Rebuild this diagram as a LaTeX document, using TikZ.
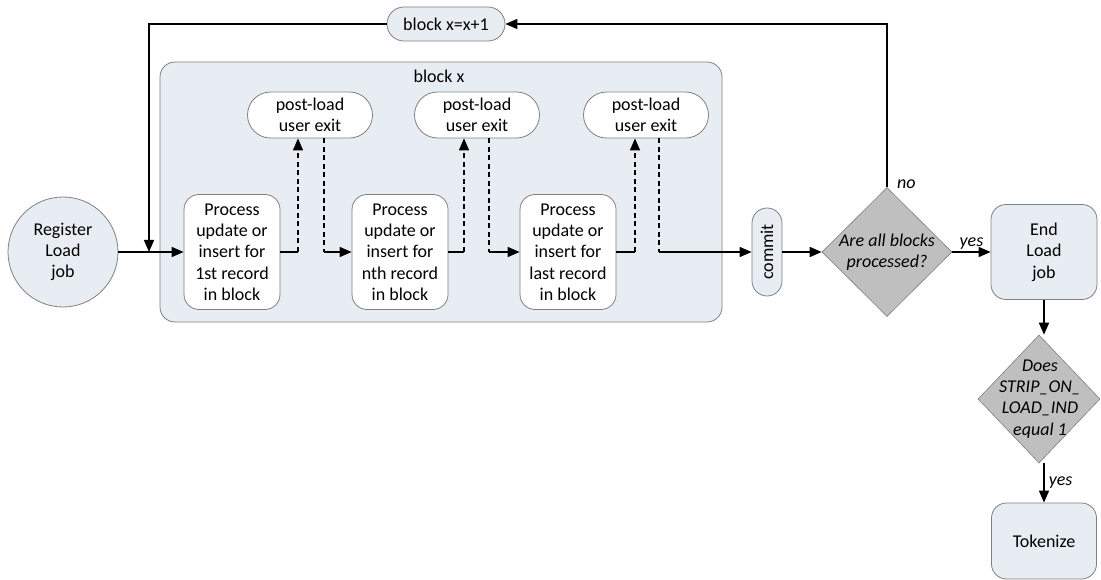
\documentclass[tikz,border=0pt]{standalone}
\usepackage{fontspec}
\setmainfont{Carlito}
\usetikzlibrary{shapes.geometric,arrows.meta}
\definecolor{lightfill}{RGB}{232,237,244}
\definecolor{bordergray}{RGB}{128,128,128}
\definecolor{diafill}{RGB}{191,191,191}
\begin{document}
\begin{tikzpicture}[x=1pt,y=-1pt,
  every node/.style={font=\fontsize{18}{21.3}\selectfont, align=center, inner sep=0pt},
  procbox/.style={draw=bordergray, line width=0.8pt, fill=white, rounded corners=15pt, minimum width=96pt, minimum height=115pt},
  exitbox/.style={draw=bordergray, line width=0.8pt, fill=white, rounded corners=23pt, minimum width=125pt, minimum height=46pt},
  dia/.style={draw=bordergray, line width=0.6pt, fill=diafill, shape=diamond, aspect=1},
  conn/.style={line width=1.6pt, -{Triangle[length=12pt,width=10pt]}},
  plain/.style={line width=1.6pt},
  dashconn/.style={line width=1.4pt, dash pattern=on 5pt off 3.5pt},
  lab/.style={font=\fontsize{18}{21.3}\selectfont\itshape}
]
\useasboundingbox (0,0) rectangle (1101,580);

% container
\node[draw=bordergray, line width=0.8pt, fill=lightfill, rounded corners=15pt, minimum width=562pt, minimum height=260pt] (cont) at (441,192) {};
\node (blk) at (439,76) {block x};

\node[draw=bordergray, line width=0.8pt, fill=lightfill, circle, minimum size=110pt] (reg) at (63,252) {Register\\Load\\job};
\node[draw=bordergray, line width=0.8pt, fill=lightfill, rounded corners=17pt, minimum width=118pt, minimum height=34pt] (inc) at (446,24) {block x=x+1};

\node[procbox] (p1) at (232,252) {Process\\update or\\insert for\\1st record\\in block};
\node[procbox] (p2) at (400,252) {Process\\update or\\insert for\\nth record\\in block};
\node[procbox] (p3) at (568,252) {Process\\update or\\insert for\\last record\\in block};

\node[exitbox] (u1) at (310,115) {post-load\\user exit};
\node[exitbox] (u2) at (477,115) {post-load\\user exit};
\node[exitbox] (u3) at (646,115) {post-load\\user exit};

\node[draw=bordergray, line width=0.8pt, fill=lightfill, rounded corners=15pt, rotate=90, minimum width=88pt, minimum height=30pt] (com) at (767,252) {commit};

\node[dia, minimum width=130pt, minimum height=129pt] (d1) at (887,252) {};
\node[lab] (d1t) at (887,252) {Are all blocks\\processed?};

\node[draw=bordergray, line width=0.8pt, fill=lightfill, rounded corners=15pt, minimum width=106pt, minimum height=95pt] (endj) at (1044,252) {End\\Load\\job};

\node[dia, minimum width=122pt, minimum height=128pt] (d2) at (1039,399) {};
\node[lab] (d2t) at (1040,399) {Does\\STRIP\_ON\_\\LOAD\_IND\\equal 1};

\node[draw=bordergray, line width=0.8pt, fill=lightfill, rounded corners=15pt, minimum width=105pt, minimum height=76pt] (tok) at (1044,541) {Tokenize};

% connectors
\draw[conn] (reg.east) -- (p1.west);
\coordinate (jn) at (149,252);
\draw[conn] (inc.west) -| (jn);
\draw[conn] (d1.north) |- (inc.east);
\node[lab, anchor=west] (no) at (897,184) {no};

% p1 -> u1 -> p2
\draw[plain] (p1.east) -- ([xshift=-12pt]u1.south |- p1.east);
\draw[dashconn, -{Triangle[length=12pt,width=10pt]}] ([xshift=-12pt]u1.south |- p1.east) -- ([xshift=-12pt]u1.south);
\draw[dashconn] ([xshift=14pt]u1.south) -- ([xshift=14pt]u1.south |- p2.west);
\draw[conn] ([xshift=14pt]u1.south |- p2.west) -- (p2.west);

% p2 -> u2 -> p3
\draw[plain] (p2.east) -- ([xshift=-13pt]u2.south |- p2.east);
\draw[dashconn, -{Triangle[length=12pt,width=10pt]}] ([xshift=-13pt]u2.south |- p2.east) -- ([xshift=-13pt]u2.south);
\draw[dashconn] ([xshift=12pt]u2.south) -- ([xshift=12pt]u2.south |- p3.west);
\draw[conn] ([xshift=12pt]u2.south |- p3.west) -- (p3.west);

% p3 -> u3 -> commit
\draw[plain] (p3.east) -- ([xshift=-11pt]u3.south |- p3.east);
\draw[dashconn, -{Triangle[length=12pt,width=10pt]}] ([xshift=-11pt]u3.south |- p3.east) -- ([xshift=-11pt]u3.south);
\draw[dashconn] ([xshift=13pt]u3.south) -- ([xshift=13pt]u3.south |- com.north);
\draw[conn] ([xshift=13pt]u3.south |- com.north) -- (com.north);

\draw[conn] (com.south) -- (d1.west);
\draw[conn] (d1.east) -- node[lab, above=2pt] {yes} (endj.west);
\draw[conn] (endj.south) -- (endj.south |- d2.north);
\draw[conn] (endj.south |- d2.south) -- node[lab, right=4pt] {yes} (tok.north);
\end{tikzpicture}
\end{document}
